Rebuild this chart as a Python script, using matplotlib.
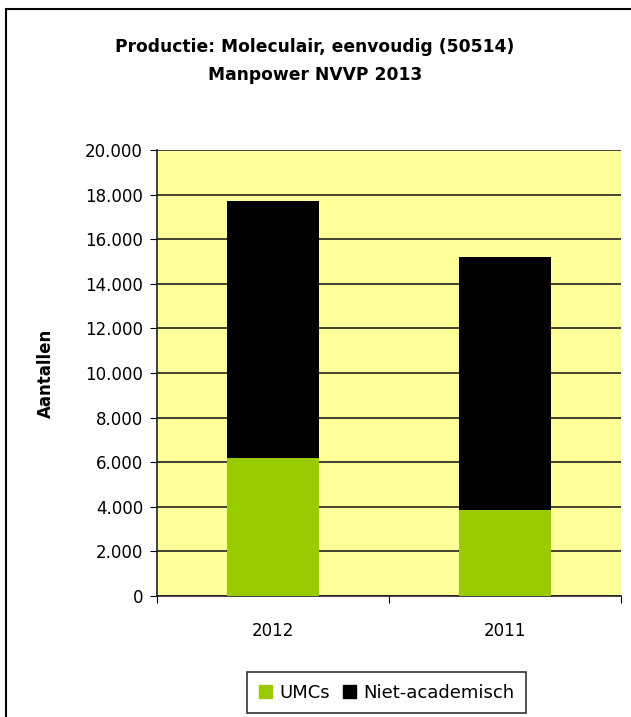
import matplotlib
matplotlib.use("Agg")
import matplotlib.pyplot as plt
from matplotlib.patches import Rectangle, Patch

plt.rcParams['font.family'] = ['DejaVu Sans']

years = ["2012", "2011"]
umcs = [6200, 3850]
niet_academisch = [11500, 11350]
y_ticks = [0, 2000, 4000, 6000, 8000, 10000, 12000, 14000, 16000, 18000, 20000]

green = "#99CC00"
black = "#000000"

fig = plt.figure(figsize=(6.31, 7.17), dpi=100)
ax = fig.add_axes([157 / 631, 1 - 596 / 717, 464 / 631, 446 / 717])
ax.set_facecolor("#FFFF99")

x = [0.5, 1.5]
ax.bar(x, umcs, width=0.4, color=green, zorder=3)
ax.bar(x, niet_academisch, width=0.4, bottom=umcs, color=black, zorder=3)

ax.set_xlim(0, 2)
ax.set_ylim(0, 20000)
ax.set_yticks(y_ticks)
ax.set_yticklabels([f"{v:,}".replace(",", ".") for v in y_ticks], fontsize=12)
ax.yaxis.grid(True, color="#222222", linewidth=1.2, zorder=0)
ax.set_xticks([0, 1, 2])
ax.set_xticklabels([])
ax.set_xticks(x, minor=True)
ax.set_xticklabels(years, minor=True, fontsize=12)
ax.tick_params(axis="x", which="minor", length=0, pad=19)
ax.tick_params(axis="x", which="major", length=5, direction="out")
ax.tick_params(axis="y", length=5, direction="out", pad=5)
for side in ["top", "right"]:
    ax.spines[side].set_visible(False)
for side in ["left", "bottom"]:
    ax.spines[side].set_linewidth(1.2)
    ax.spines[side].set_color("#222222")
ax.set_ylabel("Aantallen", fontsize=12, fontweight="bold", labelpad=22)

fig.text(315 / 631, 1 - 47 / 717, "Productie: Moleculair, eenvoudig (50514)",
         ha="center", va="center", fontsize=12.3, fontweight="bold")
fig.text(315 / 631, 1 - 75 / 717, "Manpower NVVP 2013",
         ha="center", va="center", fontsize=12.3, fontweight="bold")

handles = [Patch(color=green, label="UMCs"), Patch(color=black, label="Niet-academisch")]
leg = fig.legend(handles=handles, loc="center", bbox_to_anchor=(386.5 / 631, 1 - 692.5 / 717),
                 ncol=2, fontsize=13, frameon=True, fancybox=False, handlelength=0.72,
                 handleheight=0.72, handletextpad=0.4, columnspacing=0.7, borderpad=0.65,
                 borderaxespad=0)
leg.get_frame().set_edgecolor("black")
leg.get_frame().set_linewidth(1.2)

fig.patches.append(Rectangle((6 / 631, -0.05), 1.0, 1 - 9 / 717 + 0.05,
                             transform=fig.transFigure, fill=False,
                             edgecolor="black", linewidth=1.5))

fig.savefig("out.png", dpi=100)
